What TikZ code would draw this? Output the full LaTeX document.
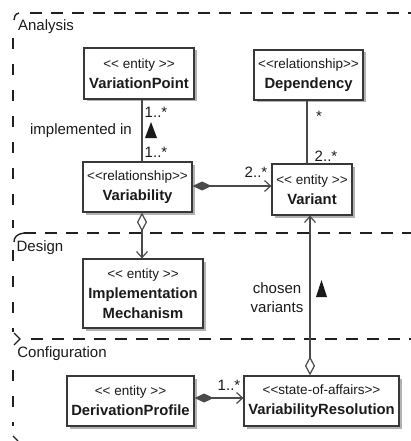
\documentclass[tikz,border=0pt]{standalone}
\usepackage{fontspec}
\newfontfamily\uml{Liberation Sans}
\usetikzlibrary{arrows.meta,shadows,calc}
\definecolor{boxc}{HTML}{383838}
\definecolor{linec}{HTML}{4A4A4A}
\definecolor{txt}{HTML}{1A1A1A}
\definecolor{framec}{HTML}{202020}
\newcommand{\stereo}[1]{{\fontsize{13.5}{20}\selectfont #1}}
\newcommand{\umlname}[1]{{\bfseries #1}}
\tikzset{
  fdia/.tip={Diamond[length=19pt, width=9pt, fill=linec, line width=1pt]},
  odia/.tip={Diamond[length=19pt, width=10pt, fill=white, line width=1.2pt]},
  barb/.tip={Straight Barb[length=6pt, width=11pt, line width=1.2pt]}
}
\begin{document}
\begin{tikzpicture}[x=1pt,y=-1pt,
  umlbox/.style={draw=boxc, line width=1.2pt, fill=white,
    drop shadow={shadow xshift=2.5pt, shadow yshift=-2.5pt, fill=black!30, opacity=1},
    inner sep=0pt, align=center, text=txt,
    font=\uml\fontsize{14.8}{20}\selectfont},
  lbl/.style={inner sep=0pt, text=txt, font=\uml\fontsize{15}{19}\selectfont, align=center},
  ptitle/.style={inner sep=0pt, text=txt, font=\uml\fontsize{15}{17}\selectfont},
  conn/.style={draw=linec, line width=1.2pt},
  hdash/.style={draw=framec, line width=1.4pt, dash pattern=on 12pt off 9pt},
  vdash/.style={draw=framec, line width=1.4pt, dash pattern=on 11pt off 15pt},
  corner/.style={draw=framec, line width=1.4pt}
]
\useasboundingbox (0,0) rectangle (411,441);

% package frames
\draw[hdash] (30,13) -- (411,13);
\draw[corner] (19,13) .. controls (15,14) and (14,17) .. (14,20);
\draw[vdash] (13,38) -- (13,228);
\draw[hdash] (24,233) -- (411,233);
\draw[corner] (24,233) .. controls (17,234) and (14,237) .. (14,242);
\draw[vdash] (13,250) -- (13,332);
\draw[hdash] (31,339) -- (411,339);
\draw[corner] (14,333) -- (20,339) -- (14,345);
\draw[vdash] (13,370) -- (13,426);
\draw[corner] (13,436) -- (18,441);

\node[ptitle] (tana) at (46,27) {Analysis};
\node[ptitle] (tdes) at (40,248) {Design};
\node[ptitle] (tcon) at (62,354) {Configuration};

% boxes
\node[umlbox, minimum width=110pt, minimum height=51pt] (vp) at (139,73.5)
  {\stereo{<{}< entity >{}>}\\\umlname{VariationPoint}};
\node[umlbox, minimum width=109pt, minimum height=50pt] (dep) at (308.5,75)
  {\stereo{<{}<relationship>{}>}\\\umlname{Dependency}};
\node[umlbox, minimum width=109pt, minimum height=50pt] (vb) at (137.5,187)
  {\stereo{<{}<relationship>{}>}\\\umlname{Variability}};
\node[umlbox, minimum width=80pt, minimum height=51pt] (vt) at (312,189.5)
  {\stereo{<{}< entity >{}>}\\\umlname{Variant}};
\node[umlbox, minimum width=120pt, minimum height=69pt] (im) at (143,293.5)
  {\stereo{<{}< entity >{}>}\\\umlname{Implementation}\\\umlname{Mechanism}};
\node[umlbox, minimum width=127pt, minimum height=50pt] (dp) at (130.5,401)
  {\stereo{<{}< entity >{}>}\\\umlname{DerivationProfile}};
\node[umlbox, minimum width=155pt, minimum height=50pt] (vr) at (321.5,401)
  {\stereo{<{}<state-of-affairs>{}>}\\\umlname{VariabilityResolution}};

% connector guides
\coordinate (ca) at (142,0);
\coordinate (cb) at (307,0);
\coordinate (cc) at (310,0);
\coordinate (ha) at (0,186);
\coordinate (hb) at (0,398);

% connectors
\draw[conn] (vp.south -| ca) -- (vb.north -| ca);
\draw[conn, {odia}-{barb}] (vb.south -| ca) -- (im.north -| ca);
\draw[conn, {fdia}-{barb}] (vb.east |- ha) -- (vt.west |- ha);
\draw[conn] (dep.south -| cb) -- (vt.north -| cb);
\draw[conn, {odia}-{barb}] (vr.north -| cc) -- (vt.south -| cc);
\draw[conn, {fdia}-{barb}] (dp.east |- hb) -- (vr.west |- hb);

% direction triangles
\fill[txt] (145,138) -- (157,138) -- (151,122) -- cycle;
\fill[txt] (316,297) -- (327,297) -- (321.5,280) -- cycle;

% labels
\node[lbl] (m1) at (156,112) {1..*};
\node[lbl] (m2) at (156,152) {1..*};
\node[lbl] (m3) at (319,116) {*};
\node[lbl] (m4) at (326,156) {2..*};
\node[lbl] (m5) at (256,172) {2..*};
\node[lbl] (m6) at (229,385) {1..*};
\node[lbl] (limpl) at (81,131) {implemented in};
\node[lbl] (lchosen) at (277,298) {chosen\\variants};
\end{tikzpicture}
\end{document}
